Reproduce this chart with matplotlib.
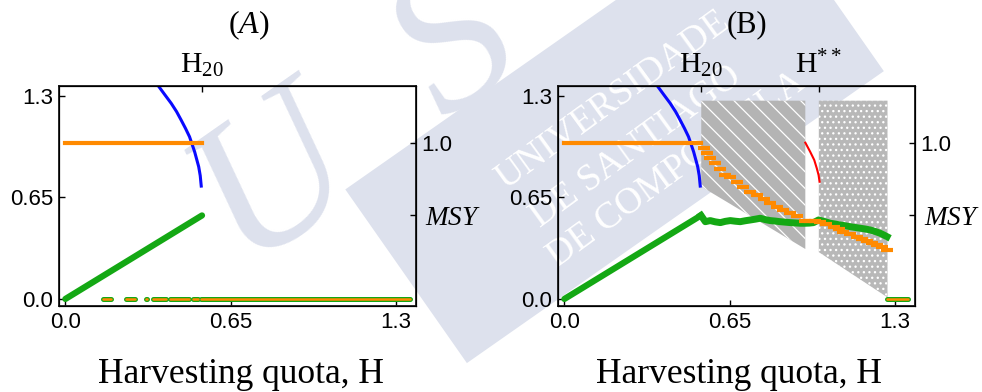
import numpy as np
import matplotlib
matplotlib.use("Agg")
import matplotlib.pyplot as plt

plt.rcParams["mathtext.fontset"] = "custom"
plt.rcParams["mathtext.rm"] = "Liberation Serif"
plt.rcParams["mathtext.it"] = "Liberation Serif:italic"
plt.rcParams["hatch.linewidth"] = 0.9

# ---------------- data ----------------
H20 = 0.537          # collapse threshold
H_SS = 1.0           # H**
MSY = 0.535          # maximum sustainable yield

xticks = [0.0, 0.65, 1.3]
xticklabels = ["0.0", "0.65", "1.3"]
yticks = [0.0, 0.65, 1.3]
yticklabels = ["0.0", "0.65", "1.3"]

# unstable branch (blue)
blue_H = [0.363, 0.390, 0.416, 0.437, 0.455, 0.472, 0.488, 0.508, 0.524, 0.530, 0.534]
blue_y = [1.370, 1.310, 1.253, 1.200, 1.146, 1.093, 1.039, 0.943, 0.847, 0.790, 0.723]

# stock before collapse (orange) and yield ramp (green)
orange_flat_H = [0.0, H20]
orange_flat_y = [1.0, 1.0]
green_ramp_H = [0.0, H20]
green_ramp_y = [0.0, MSY]

# (A) runs of harvesting quotas ending in extinction
zero_runs_A = [(0.147, 0.180), (0.239, 0.272), (0.318, 0.322), (0.344, 0.396),
               (0.412, 0.475), (0.480, 0.484), (0.501, 0.521), (0.534, 1.354)]

# (B) mean stock beyond H20 (orange)
orange_B_H = [0.547, 0.560, 0.573, 0.593, 0.613, 0.632, 0.652, 0.678, 0.704, 0.731,
              0.757, 0.783, 0.809, 0.835, 0.861, 0.888, 0.914, 0.947, 0.965, 0.985,
              1.005, 1.030, 1.058, 1.078, 1.097, 1.123, 1.149, 1.169, 1.189, 1.208,
              1.228, 1.248, 1.268]
orange_B_y = [0.965, 0.933, 0.901, 0.869, 0.830, 0.794, 0.779, 0.751, 0.719, 0.687,
              0.666, 0.638, 0.613, 0.591, 0.570, 0.553, 0.532, 0.502, 0.500, 0.500,
              0.495, 0.478, 0.463, 0.447, 0.431, 0.415, 0.399, 0.386, 0.374, 0.360,
              0.346, 0.330, 0.314]

# (B) mean yield beyond H20 (green)
green_B_H = [0.537, 0.554, 0.573, 0.593, 0.613, 0.632, 0.652, 0.672, 0.691, 0.711,
             0.731, 0.750, 0.770, 0.790, 0.809, 0.829, 0.848, 0.868, 0.888, 0.907,
             0.927, 0.947, 0.963, 0.979, 0.999, 1.022, 1.045, 1.064, 1.084, 1.104,
             1.123, 1.143, 1.163, 1.183, 1.202, 1.222, 1.241, 1.255, 1.268]
green_B_y = [0.535, 0.495, 0.502, 0.494, 0.489, 0.497, 0.502, 0.498, 0.495, 0.501,
             0.506, 0.511, 0.517, 0.508, 0.502, 0.499, 0.495, 0.492, 0.489, 0.487,
             0.485, 0.485, 0.486, 0.489, 0.506, 0.496, 0.485, 0.480, 0.474, 0.469,
             0.463, 0.458, 0.453, 0.448, 0.442, 0.432, 0.421, 0.410, 0.399]

zero_runs_B = [(1.268, 1.350)]

# (B) second unstable branch (red)
red_H = [0.947, 0.966, 0.982, 0.992, 0.999, 1.003]
red_y = [1.001, 0.943, 0.890, 0.837, 0.794, 0.751]

# (B) chaotic attractor envelopes (gray)
gray_top = 1.27
gray1_H = [0.538, 0.947]
gray1_lo = [0.72, 0.32]
gray2_H = [1.0, 1.27]
gray2_lo = [0.30, 0.01]

# ---------------- style ----------------
C_BLUE = "#0a0aff"
C_ORANGE = "#ff8a00"
C_GREEN = "#14a814"
C_RED = "#ff0000"
C_GRAY = "#b4b4b4"
C_WM = "#dde1ed"
SANS = "Liberation Sans"
SERIF = "Liberation Serif"

W, Hpx = 982, 392
fig = plt.figure(figsize=(W / 100, Hpx / 100), dpi=100)
fig.patch.set_facecolor("white")


def fpt(x, y):
    """pixel (origin top-left) -> figure fraction"""
    return x / W, 1 - y / Hpx


# ---- background logo ----
ang = np.deg2rad(35.0)
d = np.array([np.cos(ang), -np.sin(ang)])
n = np.array([-np.sin(ang), -np.cos(ang)])
P = np.array([557.0, 300.0])
band = [P + s * d + t * n for s, t in [(-110, 0), (399, 0), (399, 212), (-110, 212)]]
fig.patches.append(plt.Polygon([fpt(*p) for p in band], closed=True,
                               transform=fig.transFigure, facecolor=C_WM,
                               edgecolor="none", zorder=-10))
for s0, ch in [(-236, "U"), (10, "S"), (200, "C")]:
    B0 = P + s0 * d + 212 * n
    fig.text(*fpt(*B0), ch, fontsize=148, family=SERIF, style="italic",
             color=C_WM, rotation=35, rotation_mode="anchor", ha="left",
             va="baseline", zorder=-10)
for (x0, y0), line in zip([(505, 190), (540, 228), (557, 268)],
                          ["UNIVERSIDADE", "DE SANTIAGO", "DE COMPOSTELA"]):
    fig.text(*fpt(x0, y0), line, fontsize=27, family=SERIF, color="white",
             rotation=36, rotation_mode="anchor", ha="left", va="baseline",
             zorder=-9)

xlim = (-0.025, 1.378)
ylim = (-0.045, 1.364)


def make_axes(left_px):
    ax = fig.add_axes([left_px / W, 86 / Hpx, 357 / W, 220 / Hpx])
    ax.set_facecolor("none")
    ax.set_xlim(*xlim)
    ax.set_ylim(*ylim)
    ax.set_xticks(xticks, xticklabels)
    ax.set_yticks(yticks, yticklabels)
    ax.tick_params(direction="in", length=4, width=1, labelsize=16, pad=4,
                   top=False, right=False)
    for lab in ax.get_xticklabels() + ax.get_yticklabels():
        lab.set_family(SANS)
    for sp in ax.spines.values():
        sp.set_linewidth(1.3)
        sp.set_color("#1a1a1a")

    axr = ax.twinx()
    axr.set_ylim(*ylim)
    axr.set_yticks([1.0, MSY], ["1.0", r"$\mathit{MSY}$"])
    axr.tick_params(direction="in", length=4, width=1, labelsize=16, pad=4)
    axr.get_yticklabels()[0].set_family(SANS)
    axr.get_yticklabels()[1].set_fontsize(19.5)
    axr.get_yticklabels()[1].set_x(1.01)

    axt = ax.twiny()
    axt.set_xlim(*xlim)
    axt.tick_params(direction="in", length=4, width=1, labelsize=21.5, pad=5)
    return ax, axt


def zero_runs(ax, runs):
    for a, b in runs:
        ax.plot([a, b], [0, 0], color=C_GREEN, lw=3.6, solid_capstyle="round",
                zorder=4)
        ax.plot([a, b], [0, 0], color=C_ORANGE, lw=1.8, solid_capstyle="round",
                zorder=5)


# ---- panel A ----
axA, axAt = make_axes(59)
axAt.set_xticks([H20], [r"$\mathrm{H}_{20}$"])
axA.plot(blue_H, blue_y, color=C_BLUE, lw=2.2, zorder=3)
axA.plot(orange_flat_H, orange_flat_y, color=C_ORANGE, lw=3, zorder=3)
axA.plot(green_ramp_H, green_ramp_y, color=C_GREEN, lw=4.5,
         solid_capstyle="round", zorder=3)
zero_runs(axA, zero_runs_A)

# ---- panel B ----
axB, axBt = make_axes(558)
axBt.set_xticks([H20, H_SS], [r"$\mathrm{H}_{20}$", r"$\mathrm{H}^{**}$"])
axB.fill_between(gray1_H, gray1_lo, gray_top, facecolor=C_GRAY,
                 edgecolor="white", hatch="\\\\", linewidth=0, zorder=1)
axB.fill_between(gray2_H, gray2_lo, gray_top, facecolor="#b8b8b8",
                 edgecolor="white", hatch="...", linewidth=0, zorder=1)
axB.plot(blue_H, blue_y, color=C_BLUE, lw=2.2, zorder=3)
axB.plot(red_H, red_y, color=C_RED, lw=1.5, zorder=3)
axB.plot(green_ramp_H, green_ramp_y, color=C_GREEN, lw=4.5,
         solid_capstyle="round", zorder=3)
axB.plot(green_B_H, green_B_y, color=C_GREEN, lw=5, zorder=3)
axB.plot(orange_flat_H, orange_flat_y, color=C_ORANGE, lw=3, zorder=4)
axB.plot(orange_B_H, orange_B_y, ls="none", marker="_", ms=8, mew=3,
         color=C_ORANGE, zorder=4)
zero_runs(axB, zero_runs_B)

# ---- titles and axis labels ----
fig.text(*fpt(249, 25), r"$(\mathit{A})$", fontsize=23, ha="center", va="center")
fig.text(*fpt(747, 25), "(B)", fontsize=22, family=SERIF, ha="center", va="center")
for cx in (241, 739):
    fig.text(*fpt(cx, 383), "Harvesting quota, H", fontsize=25.5, family=SERIF,
             ha="center", va="baseline")

fig.savefig("out.png", dpi=100)
